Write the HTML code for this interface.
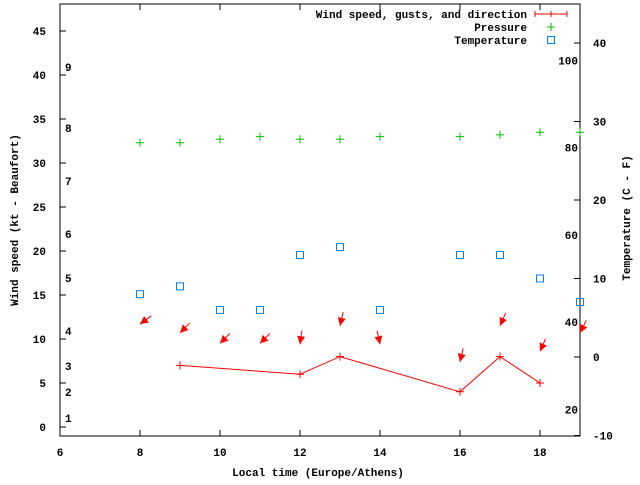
<!DOCTYPE html>
<html><head><meta charset="utf-8"><style>
body{margin:0;background:#fff}
svg text{font-family:"Liberation Mono",monospace;font-size:11px;font-weight:bold;fill:#000}
</style></head><body>
<svg id="c" width="640" height="480" viewBox="0 0 640 480" xmlns="http://www.w3.org/2000/svg">
<rect width="640" height="480" fill="#fff"/>
<g id="g"></g>
</svg>
<script>
const hours=[8,9,10,11,12,13,14,16,17,18,19];
const pressure=[32.3,32.3,32.7,33,32.7,32.7,33,33,33.2,33.5,33.5];
const tempC=[8,9,6,6,13,14,6,13,13,10,7];
const windHours=[9,12,13,16,17,18];
const windSpeed=[7,6,8,4,8,5];
const arrowY=[11.7,10.7,9.5,9.5,9.4,11.5,9.4,7.4,11.5,8.6,10.7];
const arrowDir=[54,45,45,45,8,13,348,13,24,24,27];
const xTicks=[6,8,10,12,14,16,18];
const yTicks=[0,5,10,15,20,25,30,35,40,45];
const tTicks=[-10,0,10,20,30,40];
const beaufort=[[1,418],[2,392],[3,366],[4,331],[5,278],[6,234],[7,181],[8,128],[9,67]];
const fahr=[20,40,60,80,100];

const L=60,R=580,T=4,B=436;
const x=h=>L+(h-6)*40;
const y=v=>427-v*8.8;
const yt=c=>357-c*7.85;
const g=document.getElementById('g');
const NS='http://www.w3.org/2000/svg';
function mk(tag,a,p){const e=document.createElementNS(NS,tag);for(const k in a)e.setAttribute(k,a[k]);(p||g).appendChild(e);return e;}

let e=mk('rect',{x:L,y:T,width:R-L,height:B-T,fill:'none',stroke:'#000','stroke-width':1});



xTicks.forEach(h=>{
  mk('line',{x1:x(h),y1:B,x2:x(h),y2:B-6,stroke:'#000'});
  mk('line',{x1:x(h),y1:T,x2:x(h),y2:T+6,stroke:'#000'});
  const t=mk('text',{x:x(h),y:B+20,'text-anchor':'middle'});t.textContent=h;
  
  
});
yTicks.forEach(v=>{
  mk('line',{x1:L,y1:y(v),x2:L+6,y2:y(v),stroke:'#000'});
  const t=mk('text',{x:L-14,y:y(v)+4,'text-anchor':'end'});t.textContent=v;
  
  
});
tTicks.forEach(v=>{
  mk('line',{x1:R,y1:yt(v),x2:R-6,y2:yt(v),stroke:'#000'});
  const t=mk('text',{x:R+13,y:yt(v)+4});t.textContent=v;
  
  
});
beaufort.forEach(b=>{
  const t=mk('text',{x:65,y:b[1]+4});t.textContent=b[0];
  
  
});
fahr.forEach(f=>{
  const t=mk('text',{x:R-2,y:yt((f-32)*5/9)+4,'text-anchor':'end'});t.textContent=f;
  
  
});

function plus(cx,cy,col,s){mk('path',{d:`M${cx-s},${cy}H${cx+s}M${cx},${cy-s}V${cy+s}`,stroke:col,'stroke-width':1,fill:'none'});}

pressure.forEach((p,i)=>{
  const px=x(hours[i]),py=y(p);
  const grp=mk('g',{});
  
  
  mk('path',{d:`M${px-4},${py}H${px+4}M${px},${py-4}V${py+4}`,stroke:'#00c000',fill:'none'},grp);
});
tempC.forEach((c,i)=>{
  const r=mk('rect',{x:x(hours[i])-3.5,y:yt(c)-3.5,width:7,height:7,fill:'none',stroke:'#0080ff'});
  
  
});
const pl=mk('polyline',{points:windHours.map((h,i)=>x(h)+','+y(windSpeed[i])).join(' '),fill:'none',stroke:'#f00'});


windHours.forEach((h,i)=>{
  const grp=mk('g',{});
  
  
  mk('path',{d:`M${x(h)-4},${y(windSpeed[i])}H${x(h)+4}M${x(h)},${y(windSpeed[i])-4}V${y(windSpeed[i])+4}`,stroke:'#f00',fill:'none'},grp);
});
arrowY.forEach((v,i)=>{
  const hx=x(hours[i]),hy=y(v),a=arrowDir[i]*Math.PI/180;
  const ux=Math.sin(a),uy=-Math.cos(a);
  const tx=hx+ux*14,ty=hy+uy*14;
  const grp=mk('g',{});
  
  
  mk('line',{x1:hx,y1:hy,x2:tx,y2:ty,stroke:'#f00'},grp);
  const bx=hx+ux*8,by=hy+uy*8,px=-uy,py=ux;
  mk('polygon',{points:`${hx},${hy} ${bx+px*4},${by+py*4} ${bx-px*4},${by-py*4}`,fill:'#f00'},grp);
});

// legend
const leg=[['Wind speed, gusts, and direction','#f00','err'],['Pressure','#00c000','plus'],['Temperature','#0080ff','sq']];
leg.forEach((l,i)=>{
  const ly=14+i*13;
  const t=mk('text',{x:527,y:ly+4,'text-anchor':'end'});t.textContent=l[0];
  
  
  if(l[2]==='err'){mk('path',{d:`M535,${ly}H567M535,${ly-3}V${ly+3}M567,${ly-3}V${ly+3}M551,${ly-3}V${ly+3}`,stroke:l[1],fill:'none'});}
  else if(l[2]==='plus'){plus(551,ly,l[1],4);}
  else mk('rect',{x:547.5,y:ly-3.5,width:7,height:7,fill:'none',stroke:l[1]});
});

let t=mk('text',{x:318,y:476,'text-anchor':'middle'});t.textContent='Local time (Europe/Athens)';


t=mk('text',{x:0,y:0,'text-anchor':'middle',transform:'translate(18,220) rotate(-90)'});t.textContent='Wind speed (kt - Beaufort)';


t=mk('text',{x:0,y:0,'text-anchor':'middle',transform:'translate(630,218) rotate(-90)'});t.textContent='Temperature (C - F)';


</script>
</body></html>
